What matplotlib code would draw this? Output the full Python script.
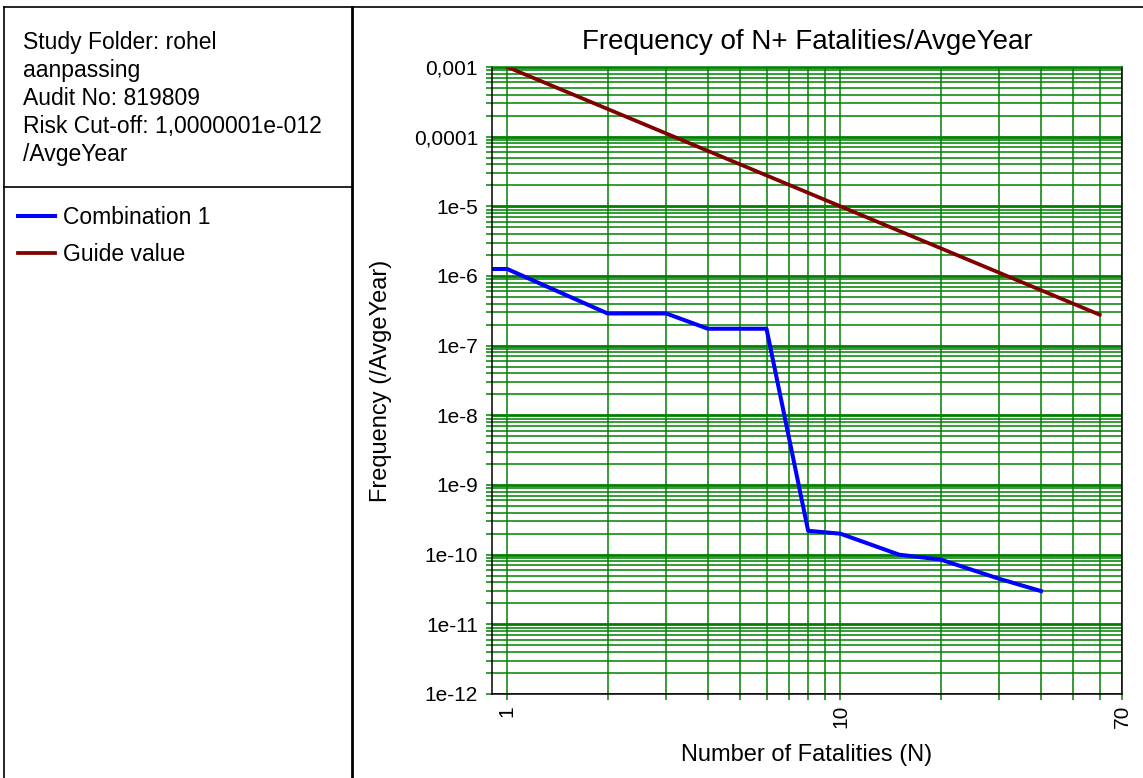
import matplotlib
matplotlib.use("Agg")
import matplotlib.pyplot as plt
from matplotlib.lines import Line2D
from matplotlib.ticker import FixedLocator, FixedFormatter, NullFormatter, LogLocator

# F-N curve data
combo_n = [0.9, 1, 2, 3, 4, 6, 8, 10, 15, 20, 30, 40]
combo_f = [1.26e-6, 1.26e-6, 2.9e-7, 2.9e-7, 1.75e-7, 1.75e-7,
           2.2e-10, 2.0e-10, 1.0e-10, 8.5e-11, 4.5e-11, 3.0e-11]
guide_n = [1, 60]
guide_f = [1e-3, 2.78e-7]

y_ticks = [1e-3, 1e-4, 1e-5, 1e-6, 1e-7, 1e-8, 1e-9, 1e-10, 1e-11, 1e-12]
y_labels = ["0,001", "0,0001", "1e-5", "1e-6", "1e-7", "1e-8",
            "1e-9", "1e-10", "1e-11", "1e-12"]
x_ticks = [1, 10, 70]
x_labels = ["1", "10", "70"]
x_minor = [2, 3, 4, 5, 6, 7, 8, 9, 20, 30, 40, 50, 60]

info_lines = ["Study Folder: rohel", "aanpassing", "Audit No: 819809",
              "Risk Cut-off: 1,0000001e-012", "/AvgeYear"]

plt.rcParams['font.family'] = ['Liberation Sans', 'DejaVu Sans']

W, H = 1143, 778
fig = plt.figure(figsize=(W / 100, H / 100), dpi=100)

def fx(x):
    return x / W

def fy(y):
    return 1 - y / H

green = '#008000'

ax = fig.add_axes([fx(492), fy(694), fx(1122) - fx(492), fy(67) - fy(694)])
ax.set_xscale('log')
ax.set_yscale('log')

l1, = ax.plot(combo_n, combo_f, color='#0000ff', lw=2.9, label='Combination 1')
l2, = ax.plot(guide_n, guide_f, color='#800000', lw=2.7, label='Guide value')

ax.set_xlim(0.9, 70)
ax.set_ylim(1e-12, 1e-3)

ax.yaxis.set_major_locator(FixedLocator(y_ticks))
ax.yaxis.set_major_formatter(FixedFormatter(y_labels))
ax.yaxis.set_minor_locator(LogLocator(base=10, subs=range(2, 10), numticks=20))
ax.yaxis.set_minor_formatter(NullFormatter())
ax.xaxis.set_major_locator(FixedLocator(x_ticks))
ax.xaxis.set_major_formatter(FixedFormatter(x_labels))
ax.xaxis.set_minor_locator(FixedLocator(x_minor))
ax.xaxis.set_minor_formatter(NullFormatter())

ax.grid(True, which='major', axis='y', color=green, lw=2.0)
ax.grid(True, which='minor', axis='y', color=green, lw=1.1)
ax.grid(True, which='both', axis='x', color=green, lw=1.1)

ax.tick_params(which='both', direction='out', color=green, length=4, width=1.1,
               labelsize=15)
ax.tick_params(axis='y', pad=6)
ax.tick_params(axis='x', labelrotation=90, pad=4)

for s in ax.spines.values():
    s.set_linewidth(1.1)
    s.set_color('black')
ax.spines['top'].set_color(green)

ax.set_title('Frequency of N+ Fatalities/AvgeYear', fontsize=20, pad=13)
ax.set_xlabel('Number of Fatalities (N)', fontsize=17)
ax.set_ylabel('Frequency (/AvgeYear)', fontsize=17)
ax.xaxis.set_label_coords(0.5, -0.08)
ax.yaxis.set_label_coords(-0.158, 0.5)

# left info panel, one line per row
for i, line in enumerate(info_lines):
    fig.text(fx(23), fy(49 + 28 * i), line, fontsize=16.5, va='baseline', ha='left')

fig.legend(handles=[l1, l2], loc='upper left', bbox_to_anchor=(fx(18), fy(206)),
           frameon=False, fontsize=16.5, handlelength=1.6, handletextpad=0.35,
           labelspacing=0.62, borderpad=0, borderaxespad=0)

# panel borders
borders = [
    ((4, 1143), (7, 7), 1.2),
    ((4, 4), (7, 778), 1.2),
    ((352, 352), (7, 778), 2.0),
    ((4, 352), (187, 187), 1.2),
]
for xs, ys, lw in borders:
    fig.add_artist(Line2D([fx(xs[0]), fx(xs[1])], [fy(ys[0]), fy(ys[1])],
                          transform=fig.transFigure, color='black', lw=lw))

fig.savefig('out.png', dpi=100)
